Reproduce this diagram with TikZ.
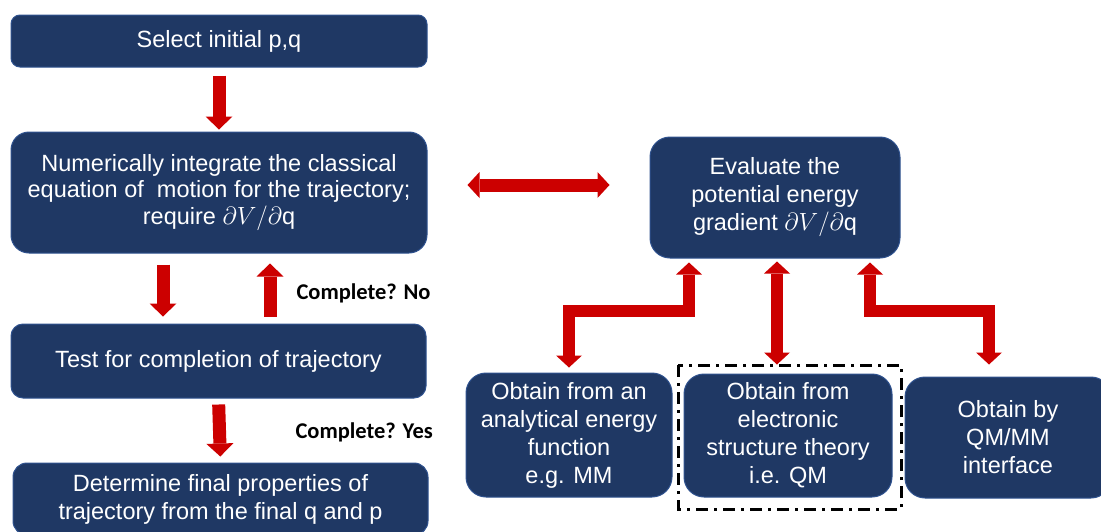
\documentclass[tikz,border=0pt]{standalone}
\usepackage{amsmath, amssymb}
\usepackage{fontspec}
\setmainfont{Liberation Sans}
\newfontfamily\notefont{Carlito}
\usetikzlibrary{arrows.meta, calc}

\definecolor{boxblue}{HTML}{1F3864}
\definecolor{boxedge}{HTML}{2F528F}
\definecolor{arrowred}{HTML}{CC0000}

\tikzset{
  stepbox/.style={draw=boxedge, line width=1pt, fill=boxblue, text=white,
    align=center, inner sep=0pt, font=\fontsize{23.5}{28}\selectfont},
  redarrow/.style={draw=arrowred, line width=13pt, line join=miter,
    -{Triangle[width=27pt,length=13pt,line width=0pt]}},
  dblarrow/.style={draw=arrowred, line width=12pt, line join=miter,
    {Triangle[width=26pt,length=12pt,line width=0pt]}-{Triangle[width=26pt,length=12pt,line width=0pt]}},
  note/.style={anchor=west, font=\notefont\bfseries\fontsize{22.5}{26}\selectfont}
}

\begin{document}
\begin{tikzpicture}[x=1pt, y=-1pt]
    \useasboundingbox (0,0) rectangle (1101,531);

    % --- 1. left column: the integration loop ---
    \node[stepbox, minimum width=416, minimum height=52, rounded corners=9] (sel) at (219,41)
        {Select initial p,q};
    \node[stepbox, minimum width=416, minimum height=121, rounded corners=18,
          font=\fontsize{23.5}{26.5}\selectfont] (integ) at (219,192.5)
        {Numerically integrate the classical\\equation of \ motion for the trajectory;\\require $\partial V/\partial\mathrm{q}$};
    \node[stepbox, minimum width=415, minimum height=74, rounded corners=12] (test) at (218.5,361)
        {Test for completion of trajectory};
    \node[stepbox, minimum width=415, minimum height=72, rounded corners=14] (fin) at (220.5,499)
        {Determine final properties of\\trajectory from the final q and p};

    % --- 2. right column: where the gradient comes from ---
    \node[stepbox, minimum width=250, minimum height=121, rounded corners=20] (eval) at (775,197.5)
        {Evaluate the\\potential energy\\gradient $\partial V/\partial\mathrm{q}$};
    \node[stepbox, minimum width=206, minimum height=124, rounded corners=20] (obt1) at (569,435)
        {Obtain from an\\analytical energy\\function\\e.g. MM};
    \node[stepbox, minimum width=208, minimum height=123, rounded corners=20] (obt2) at (788,435.5)
        {Obtain from\\electronic\\structure theory\\i.e. QM};
    \node[stepbox, minimum width=206, minimum height=121, rounded corners=20] (obt3) at (1008,437.5)
        {Obtain by\\QM/MM\\interface};

    % dash-dot frame round the QM box
    \draw[line width=3pt, dash pattern=on 12pt off 6pt on 3pt off 6pt] (678,365) rectangle (901,509);

    % --- 3. helper coordinates for the arrows ---
    \coordinate (dn) at (163,0);
    \coordinate (up) at (270,0);
    \coordinate (hy) at (0,185);
    \coordinate (bar) at (0,311);
    \coordinate (lx) at (689,0);
    \coordinate (mx) at (777,0);
    \coordinate (rx) at (870,0);
    \coordinate (r2x) at (989,0);

    % --- 4. arrows of the loop ---
    \draw[redarrow, shorten <=8pt, shorten >=2pt] (sel.south) -- (integ.north);
    \draw[redarrow, shorten <=11pt, shorten >=7pt] (integ.south -| dn) -- (test.north -| dn);
    \draw[redarrow, shorten <=7pt, shorten >=10pt] (test.north -| up) -- (integ.south -| up);
    \draw[redarrow, shorten <=6pt, shorten >=6pt] (test.south) -- (fin.north);
    \node[note] (no) at (293,293) {Complete? No};
    \node[note] (yes) at (292,432) {Complete? Yes};

    % --- 5. arrows to the gradient box ---
    \draw[dblarrow, line width=13pt, shorten <=40pt, shorten >=40pt] (integ.east |- hy) -- (eval.west |- hy);
    \draw[dblarrow, shorten <=5pt, shorten >=4pt] (obt1.north) -- (obt1.north |- bar) -| (eval.south -| lx);
    \draw[dblarrow, shorten <=3pt, shorten >=9pt] (eval.south -| mx) -- (obt2.north -| mx);
    \draw[dblarrow, shorten <=4pt, shorten >=12pt] (eval.south -| rx) |- (bar -| r2x) -- (obt3.north -| r2x);

\end{tikzpicture}
\end{document}
